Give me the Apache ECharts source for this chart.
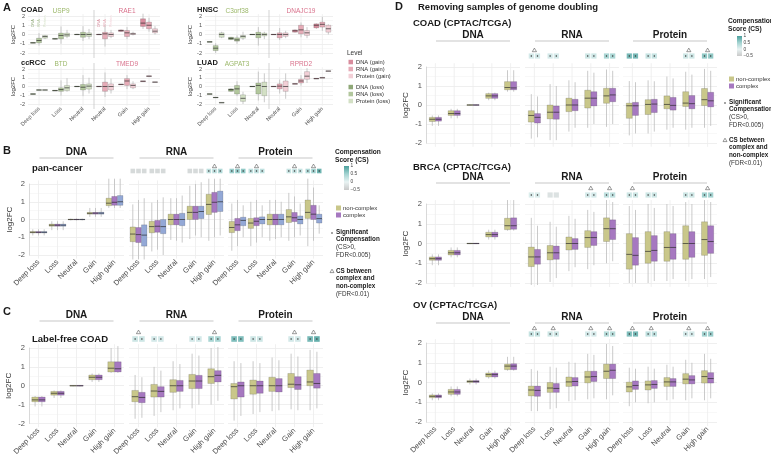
<!DOCTYPE html>
<html><head><meta charset="utf-8">
<script src="https://cdn.jsdelivr.net/npm/echarts@6/dist/echarts.min.js"></script>
<style>html,body{margin:0;padding:0;background:#fff}#c{width:771px;height:458px}</style>
</head><body><div id="c"></div>
<script>
// ---------------- categories & ticks ----------------
const cats5 = ['Deep loss','Loss','Neutral','Gain','High gain'];
const catsAL = ['Deep loss','Loss','Neutral'];
const catsAR = ['Neutral','Gain','High gain'];
const yTicks = [-2,-1,0,1,2];
const csTicks = [1,0.5,0,-0.5];

// ---------------- Panel A: [min,q1,median,q3,max] ----------------
const COAD_USP9_DNA = [[-0.95,-0.92,-0.9,-0.88,-0.85],[-0.55,-0.5,-0.47,-0.42,-0.38],[-0.05,-0.02,0,0.03,0.08]];
const COAD_USP9_RNA = [[-1.2,-0.9,-0.65,-0.4,0.15],[-1.0,-0.47,-0.1,0.15,0.87],[-0.7,-0.3,0,0.25,0.9]];
const COAD_USP9_Prot = [[-0.5,-0.4,-0.22,-0.1,-0.05],[-0.4,-0.22,-0.04,0.15,0.5],[-0.5,-0.22,0,0.18,0.6]];
const COAD_RAE1_DNA = [[-0.05,-0.02,0,0.03,0.08],[0.3,0.33,0.42,0.5,0.55],[0.6,0.87,1.23,1.7,2.25]];
const COAD_RAE1_RNA = [[-1.3,-0.47,0.07,0.25,1.0],[-0.5,-0.22,0.18,0.43,0.8],[0.3,0.62,1.0,1.34,1.8]];
const COAD_RAE1_Prot = [[-0.4,-0.22,0,0.18,0.5],[-0.1,0,0.07,0.15,0.3],[0,0.18,0.36,0.62,0.9]];
const ccRCC_BTD_DNA = [[-0.88,-0.87,-0.86,-0.85,-0.84],[-0.5,-0.49,-0.47,-0.45,-0.44],[-0.02,-0.01,0,0.01,0.02]];
const ccRCC_BTD_RNA = [[-0.41,-0.4,-0.4,-0.4,-0.39],[-1.05,-0.55,-0.35,-0.15,0.7],[-1.1,-0.4,-0.08,0.24,1.3]];
const ccRCC_BTD_Prot = [[-0.41,-0.4,-0.4,-0.4,-0.39],[-0.6,-0.47,-0.15,0.12,0.95],[-0.8,-0.3,0.04,0.3,1.0]];
const ccRCC_TMED9_DNA = [[-0.02,-0.01,0,0.01,0.02],[0.22,0.23,0.24,0.25,0.26],[0.6,0.6,0.6,0.6,0.6]];
const ccRCC_TMED9_RNA = [[-1.2,-0.55,0,0.5,1.6],[-0.3,0.12,0.63,0.9,1.3],[1.18,1.18,1.18,1.18,1.18]];
const ccRCC_TMED9_Prot = [[-0.8,-0.4,0,0.3,0.9],[-0.3,-0.15,0.12,0.3,0.6],[0.5,0.5,0.5,0.5,0.5]];
const HNSC_C3orf38_DNA = [[-0.8,-0.8,-0.8,-0.8,-0.8],[-0.6,-0.55,-0.42,-0.3,-0.25],[-0.05,-0.02,0,0.02,0.05]];
const HNSC_C3orf38_RNA = [[-2.0,-1.74,-1.48,-1.2,-0.95],[-1.0,-0.72,-0.58,-0.36,-0.1],[-1.2,-0.36,0,0.25,0.8]];
const HNSC_C3orf38_Prot = [[-0.4,-0.3,0,0.18,0.3],[-0.6,-0.4,-0.2,-0.1,0.3],[-0.5,-0.15,0,0.15,0.3]];
const HNSC_DNAJC19_DNA = [[-0.05,-0.02,0,0.02,0.05],[0.2,0.25,0.4,0.5,0.55],[0.6,0.72,1.0,1.15,1.2]];
const HNSC_DNAJC19_RNA = [[-0.6,-0.36,0,0.18,0.7],[-0.3,0.07,0.5,1.0,1.3],[0.4,0.8,1.1,1.34,1.9]];
const HNSC_DNAJC19_Prot = [[-0.4,-0.2,0,0.18,0.4],[-0.4,-0.1,0.18,0.43,0.8],[0,0.25,0.62,1.0,1.1]];
const LUAD_AGPAT3_DNA = [[-0.86,-0.86,-0.86,-0.86,-0.86],[-0.6,-0.55,-0.35,-0.27,-0.2],[-0.02,-0.01,0,0.01,0.02]];
const LUAD_AGPAT3_RNA = [[-1.26,-1.26,-1.26,-1.26,-1.26],[-1.1,-0.86,-0.27,0.12,0.6],[-1.6,-0.86,0.12,0.4,1.7]];
const LUAD_AGPAT3_Prot = [[-1.85,-1.85,-1.85,-1.85,-1.85],[-2.0,-1.7,-1.35,-0.95,-0.6],[-1.8,-1.05,0,0.5,1.5]];
const LUAD_RPRD2_DNA = [[-0.02,-0.01,0,0.01,0.02],[0.28,0.29,0.3,0.31,0.32],[0.9,0.9,0.9,0.9,0.9]];
const LUAD_RPRD2_RNA = [[-0.8,-0.27,0.04,0.3,0.8],[0.1,0.4,0.63,0.82,1.3],[1.0,1.0,1.0,1.0,1.0]];
const LUAD_RPRD2_Prot = [[-1.4,-0.55,0,0.63,1.5],[0.4,0.82,1.18,1.7,2.1],[1.76,1.76,1.76,1.76,1.76]];

// ---------------- Panel B: pan-cancer ----------------
const B_DNA_nc = [[-0.9,-0.76,-0.72,-0.68,-0.55],[-0.6,-0.38,-0.32,-0.26,-0.1],[-0.05,-0.02,0,0.02,0.05],[0.15,0.3,0.35,0.4,0.65],[0.65,0.78,0.92,1.2,2.3]];
const B_DNA_c = [[-0.9,-0.76,-0.72,-0.68,-0.55],[-0.6,-0.38,-0.32,-0.26,-0.1],[-0.05,-0.02,0,0.02,0.05],[0.15,0.3,0.36,0.4,0.65],[0.65,0.8,0.97,1.3,2.4]];
const B_DNA_all = [[-0.9,-0.76,-0.72,-0.68,-0.55],[-0.6,-0.38,-0.32,-0.26,-0.1],[-0.05,-0.02,0,0.02,0.05],[0.15,0.3,0.36,0.41,0.65],[0.65,0.8,1.0,1.35,2.4]];
const B_RNA_nc = [[-2.3,-1.25,-0.82,-0.42,0.85],[-1.8,-0.75,-0.4,-0.1,0.95],[-1.15,-0.3,0,0.3,1.2],[-1.1,0,0.4,0.75,1.9],[-1.2,0.28,0.85,1.42,2.5]];
const B_RNA_c = [[-2.3,-1.3,-0.85,-0.45,1.1],[-1.7,-0.72,-0.38,-0.05,1.1],[-1.2,-0.3,0,0.3,1.2],[-0.9,0,0.4,0.75,2.0],[-1.0,0.4,0.97,1.53,2.5]];
const B_RNA_all = [[-2.3,-1.5,-0.88,-0.3,1.2],[-2.0,-0.8,-0.4,0,1.25],[-1.3,-0.35,0,0.35,1.35],[-1.0,0.05,0.45,0.75,2.1],[-0.9,0.45,1.0,1.6,2.5]];
const B_Prot_nc = [[-1.76,-0.74,-0.45,-0.11,0.9],[-1.5,-0.5,-0.2,0.06,1.0],[-1.2,-0.3,0,0.3,1.1],[-1.2,-0.17,0.15,0.56,1.5],[-1.5,0.06,0.4,1.1,2.3]];
const B_Prot_c = [[-1.5,-0.63,-0.3,0.06,1.1],[-1.3,-0.35,-0.1,0.1,1.1],[-1.1,-0.3,0,0.3,1.1],[-1.0,-0.12,0.1,0.4,1.3],[-1.2,0,0.3,0.8,1.8]];
const B_Prot_all = [[-1.0,-0.35,-0.05,0.13,0.8],[-1.0,-0.25,0,0.15,0.8],[-1.0,-0.3,0,0.3,1.0],[-0.9,-0.25,0,0.2,0.9],[-0.8,-0.2,0.05,0.3,0.8]];
const B_RNA_cs = [[-0.3,-0.3,-0.3],[-0.3,-0.3,-0.3],null,[-0.3,-0.3,-0.3],[0.3,0.3,0.4]];
const B_RNA_sig = [[0,0,0],[0,0,0],null,[0,0,0],[1,1,1]];
const B_RNA_tri = [0,0,0,0,1];
const B_Prot_cs = [[0.55,0.55,0.6],[0.3,0.3,0.3],null,[0.25,0.25,0.25],[0.4,0.5,0.8]];
const B_Prot_sig = [[1,1,1],[1,1,1],null,[1,1,1],[1,1,1]];
const B_Prot_tri = [1,1,0,1,1];

// ---------------- Panel C: Label-free COAD ----------------
const C_DNA_nc = [[-1.1,-0.85,-0.75,-0.6,-0.55],[-0.65,-0.5,-0.4,-0.3,-0.25],[-0.03,-0.01,0,0.01,0.03],[0.2,0.32,0.45,0.57,0.65],[0.68,0.73,0.93,1.27,2.0]];
const C_DNA_c = [[-1.1,-0.85,-0.75,-0.6,-0.55],[-0.65,-0.5,-0.4,-0.3,-0.25],[-0.03,-0.01,0,0.01,0.03],[0.2,0.32,0.45,0.57,0.65],[0.68,0.73,0.9,1.27,2.1]];
const C_RNA_nc = [[-1.75,-0.85,-0.58,-0.25,0.57],[-1.6,-0.6,-0.28,0.07,1.0],[-1.3,-0.35,0,0.32,1.3],[-1.2,-0.15,0.25,0.6,1.7],[-1.0,0.12,0.48,0.9,2.0]];
const C_RNA_c = [[-1.7,-0.9,-0.62,-0.35,0.45],[-1.4,-0.6,-0.3,-0.05,0.8],[-1.2,-0.3,0,0.28,1.15],[-1.0,-0.15,0.25,0.55,1.6],[-0.8,0.2,0.55,0.8,2.05]];
const C_Prot_nc = [[-1.85,-0.7,-0.05,0.12,1.3],[-1.5,-0.45,0,0.3,1.3],[-1.35,-0.3,0,0.45,1.5],[-1.25,-0.1,0.08,0.65,1.7],[-1.3,0,0.2,0.83,1.9]];
const C_Prot_c = [[-1.6,-0.6,0,0.2,1.2],[-1.4,-0.4,0,0.25,1.2],[-1.3,-0.33,0,0.38,1.35],[-1.3,-0.2,0.05,0.48,1.55],[-1.2,-0.13,0.12,0.65,1.8]];
const C_RNA_cs = [[0.2,0.2],[0.15,0.15],null,[0.15,0.15],[0.45,0.45]];
const C_RNA_sig = [[1,1],[1,1],null,[1,1],[1,1]];
const C_RNA_tri = [1,0,0,0,1];
const C_Prot_cs = [[0.7,0.7],[0.2,0.2],null,[0.15,0.15],[0.75,0.85]];
const C_Prot_sig = [[1,1],[1,1],null,[1,1],[1,1]];
const C_Prot_tri = [0,0,0,1,1];

// ---------------- Panel D: COAD / BRCA / OV (CPTAC/TCGA) ----------------
const DC_DNA_nc = [[-1.1,-0.87,-0.75,-0.65,-0.55],[-0.7,-0.55,-0.45,-0.3,-0.2],[-0.03,-0.01,0,0.01,0.03],[0.25,0.35,0.48,0.6,0.65],[0.7,0.8,0.92,1.23,1.83]];
const DC_DNA_c = [[-1.1,-0.85,-0.75,-0.65,-0.55],[-0.7,-0.55,-0.45,-0.3,-0.2],[-0.03,-0.01,0,0.01,0.03],[0.25,0.35,0.48,0.6,0.65],[0.7,0.8,0.9,1.23,1.83]];
const DC_RNA_nc = [[-1.77,-0.9,-0.55,-0.3,0.57],[-1.85,-0.73,-0.38,0,1.1],[-1.4,-0.35,0,0.36,1.3],[-1.2,-0.16,0.36,0.78,1.8],[-1.15,0.09,0.48,0.88,1.87]];
const DC_RNA_c = [[-1.7,-0.95,-0.65,-0.45,0.45],[-1.85,-0.75,-0.38,-0.05,1.0],[-1.2,-0.3,0,0.3,1.2],[-1.0,-0.05,0.36,0.7,1.7],[-1.0,0.17,0.53,0.88,1.8]];
const DC_Prot_nc = [[-1.6,-0.7,-0.04,0.1,1.26],[-1.5,-0.5,0.03,0.28,1.3],[-1.3,-0.2,0.03,0.48,1.5],[-1.3,-0.08,0.1,0.7,1.75],[-1.2,-0.03,0.28,0.87,1.9]];
const DC_Prot_c = [[-1.5,-0.55,-0.04,0.14,1.2],[-1.4,-0.4,0.05,0.3,1.25],[-1.2,-0.27,-0.02,0.4,1.4],[-1.2,-0.2,0.07,0.5,1.6],[-1.1,-0.1,0.22,0.67,1.8]];
const DC_RNA_cs = [[0.15,0.15],[0.15,0.15],null,[0.2,0.2],[0.45,0.45]];
const DC_RNA_sig = [[1,1],[1,1],null,[1,1],[1,1]];
const DC_RNA_tri = [1,0,0,0,0];
const DC_Prot_cs = [[0.75,0.75],[0.25,0.25],null,[0.2,0.2],[0.6,0.6]];
const DC_Prot_sig = [[1,1],[1,1],null,[1,1],[1,1]];
const DC_Prot_tri = [0,0,0,1,1];

const DB_DNA_nc = [[-1.1,-0.85,-0.77,-0.68,-0.55],[-0.7,-0.58,-0.47,-0.35,-0.2],[-0.03,-0.01,0,0.01,0.03],[0.2,0.33,0.45,0.57,0.7],[0.65,0.7,0.9,1.28,2.2]];
const DB_DNA_c = [[-1.1,-0.85,-0.77,-0.68,-0.55],[-0.7,-0.58,-0.47,-0.35,-0.2],[-0.03,-0.01,0,0.01,0.03],[0.2,0.33,0.45,0.57,0.7],[0.65,0.72,0.9,1.3,2.2]];
const DB_RNA_nc = [[-2.1,-1.17,-0.68,-0.18,1.3],[-1.95,-0.83,-0.47,-0.1,1.1],[-1.4,-0.33,0,0.33,1.4],[-1.3,-0.2,0.3,0.65,1.7],[-1.0,0.1,0.75,1.3,2.2]];
const DB_RNA_c = [[-2.1,-1.05,-0.68,-0.3,0.9],[-1.75,-0.8,-0.47,-0.13,0.85],[-1.2,-0.3,0,0.25,1.25],[-1.1,-0.1,0.3,0.6,1.6],[-0.9,0.2,0.75,1.2,2.1]];
const DB_Prot_nc = [[-2.0,-1.3,-0.55,0.5,1.9],[-2.0,-1.0,-0.4,0.6,2.0],[-1.9,-0.9,-0.2,0.6,2.0],[-1.9,-0.8,0,0.9,2.1],[-1.8,-0.6,0.2,1.1,2.2]];
const DB_Prot_c = [[-2.0,-1.1,-0.6,0.3,1.7],[-1.9,-0.9,-0.35,0.4,1.8],[-1.8,-0.8,-0.2,0.5,1.9],[-1.8,-0.7,0,0.6,2.0],[-1.7,-0.5,0.1,0.9,2.1]];
const DB_RNA_cs = [[0.1,0.1],[-0.2,-0.2],null,[0.15,0.15],[0.3,0.3]];
const DB_RNA_sig = [[1,1],[0,0],null,[1,1],[1,1]];
const DB_RNA_tri = [0,0,0,1,1];
const DB_Prot_cs = [[0.2,0.2],[0.2,0.2],null,[0.2,0.2],[0.5,0.5]];
const DB_Prot_sig = [[1,1],[1,1],null,[1,1],[1,1]];
const DB_Prot_tri = [1,0,0,0,1];

const DO_DNA_nc = [[-0.9,-0.77,-0.7,-0.63,-0.55],[-0.7,-0.6,-0.48,-0.35,-0.2],[-0.1,0,0.05,0.1,0.2],[0.2,0.28,0.4,0.48,0.6],[0.6,0.65,0.83,0.93,1.3]];
const DO_DNA_c = [[-0.9,-0.77,-0.7,-0.63,-0.55],[-0.7,-0.6,-0.48,-0.35,-0.2],[-0.1,0,0.05,0.1,0.2],[0.2,0.28,0.4,0.48,0.6],[0.6,0.65,0.83,0.95,1.3]];
const DO_RNA_nc = [[-1.45,-0.68,-0.38,-0.18,0.68],[-1.35,-0.5,-0.28,0.0,0.8],[-0.95,-0.2,0.03,0.28,1.05],[-0.85,-0.02,0.28,0.57,1.45],[-0.85,0.2,0.57,0.93,1.95]];
const DO_RNA_c = [[-1.45,-0.7,-0.4,-0.18,0.6],[-1.3,-0.5,-0.3,-0.05,0.75],[-0.9,-0.18,0.05,0.25,1.0],[-0.8,0.05,0.3,0.57,1.4],[-0.65,0.2,0.62,0.93,1.85]];
const DO_Prot_nc = [[-1.2,-0.48,-0.22,0.02,0.75],[-1.05,-0.38,-0.12,0.08,0.8],[-0.9,-0.2,0.03,0.25,0.9],[-0.9,-0.07,0.17,0.45,1.15],[-0.9,-0.03,0.3,0.6,1.45]];
const DO_Prot_c = [[-1.0,-0.35,-0.15,0.08,0.7],[-1.0,-0.3,-0.1,0.1,0.7],[-0.85,-0.2,0.03,0.2,0.8],[-0.8,-0.07,0.13,0.35,1.0],[-0.8,-0.03,0.2,0.5,1.2]];
const DO_RNA_cs = [[0.25,0.25],[0.2,0.2],null,[0.15,0.15],[0.35,0.35]];
const DO_RNA_sig = [[1,1],[1,1],null,[1,1],[1,1]];
const DO_RNA_tri = [1,1,0,1,1];
const DO_Prot_cs = [[0.7,0.75],[0.3,0.3],null,[0.15,0.15],[0.5,0.55]];
const DO_Prot_sig = [[1,1],[1,1],null,[1,1],[1,1]];
const DO_Prot_tri = [1,1,0,1,1];

// ---------------- styles ----------------
const FONT = "'Liberation Sans', Arial, Helvetica, sans-serif";
const COL_NC = '#c9c78a', COL_C = '#a678c0', COL_ALL = '#93a8d6';
const COL_LOSS = ['#8fa878','#b2c79d','#d3e0c5'];
const COL_GAIN = ['#d88c9d','#e6abb7','#f2cfd6'];
const GENE_GREEN = '#9cb86a', GENE_PINK = '#d9728c';
const WHISK = '#bdbdbd', BORDER = 'rgba(0,0,0,0.28)', MED = 'rgba(40,40,40,0.75)';
const CS_STOPS = [[-0.5,[201,201,201]],[0,[233,243,243]],[0.5,[163,211,209]],[1,[74,159,156]]];
function csColor(v){
  for(let i=0;i<CS_STOPS.length-1;i++){
    const [a,ca]=CS_STOPS[i],[b,cb]=CS_STOPS[i+1];
    if(v<=b||i===CS_STOPS.length-2){
      const t=Math.max(0,Math.min(1,(v-a)/(b-a)));
      const c=ca.map((x,k)=>Math.round(x+(cb[k]-x)*t));
      return `rgb(${c[0]},${c[1]},${c[2]})`;
    }
  }
}

const grids=[], xAxes=[], yAxes=[], series=[], graphics=[];
function addGrid(o){
  const i=grids.length;
  grids.push({left:o.left, top:o.top, width:o.width, height:o.height});
  xAxes.push({type:'category', gridIndex:i, data:o.cats, boundaryGap:true,
    axisLine:{show:false}, axisTick:{show:false}, splitLine:{show:false},
    axisLabel:{show:!!o.xLabels, rotate:45, interval:0, fontSize:o.xFont||7.5, color:'#4d4d4d', margin:o.xMargin||6, fontFamily:FONT}});
  yAxes.push({type:'value', gridIndex:i, min:yTicks[0], max:yTicks[yTicks.length-1], interval:1,
    axisLine:{show:!!o.yLine, lineStyle:{color:'#cfcfcf', width:0.8}}, axisTick:{show:false},
    axisLabel:{show:!!o.yLabels, fontSize:o.yFont||7.5, color:'#4d4d4d', margin:o.yMargin||4, fontFamily:FONT},
    splitLine:{show:true, lineStyle:{color:'#ebebeb', width:0.8}},
    minorTick:{show:false, splitNumber:2}, minorSplitLine:{show:true, lineStyle:{color:'#f4f4f4', width:0.6}},
    name:o.yName||'', nameLocation:'middle', nameGap:o.nameGap||14,
    nameTextStyle:{fontSize:o.nameSize||8, color:'#333', fontFamily:FONT}});
  series.push({type:'custom', xAxisIndex:i, yAxisIndex:i, silent:true, z:1,
    data:o.cats.map((c,k)=>[k]),
    renderItem:(p,api)=>{const a=api.coord([api.value(0),2.2]), b=api.coord([api.value(0),-2.2]);
      return {type:'line', shape:{x1:a[0],y1:a[1],x2:b[0],y2:b[1]}, style:{stroke:'#ececec', lineWidth:0.8}};}});
  return i;
}
function addBoxes(gi, data, color, off, w){
  series.push({type:'custom', xAxisIndex:gi, yAxisIndex:gi, silent:true, z:3,
    data:data.map((d,k)=>[k].concat(d)),
    renderItem:(p,api)=>{
      const k=api.value(0);
      const cx=api.coord([k,0])[0]+off;
      const Y=v=>api.coord([k,Math.max(-2.25,Math.min(2.3,v))])[1];
      const y0=Y(api.value(1)), y1=Y(api.value(2)), ym=Y(api.value(3)), y3=Y(api.value(4)), y4=Y(api.value(5));
      const h=Math.max(y1-y3,0.8);
      return {type:'group', children:[
        {type:'line', shape:{x1:cx,y1:y4,x2:cx,y2:y0}, style:{stroke:WHISK, lineWidth:0.8}},
        {type:'rect', shape:{x:cx-w/2,y:Math.min(y3,ym-0.4),width:w,height:h}, style:{fill:color, stroke:BORDER, lineWidth:0.5}},
        {type:'line', shape:{x1:cx-w/2,y1:ym,x2:cx+w/2,y2:ym}, style:{stroke:MED, lineWidth:0.9}}
      ]};
    }});
}
function addSymbols(gi, cs, sig, tri, offs, size, sqGap, triGap){
  const d=[];
  cs.forEach((arr,k)=>{ if(arr) arr.forEach((v,j)=>d.push([k,j,v,sig[k][j]])); });
  series.push({type:'custom', xAxisIndex:gi, yAxisIndex:gi, silent:true, z:4, data:d,
    renderItem:(p,api)=>{
      const k=api.value(0), pt=api.coord([k,2]);
      const cx=pt[0]+offs[api.value(1)], cy=pt[1]-sqGap;
      const ch=[{type:'rect', shape:{x:cx-size/2,y:cy-size/2,width:size,height:size}, style:{fill:csColor(api.value(2))}}];
      if(api.value(3)) ch.push({type:'circle', shape:{cx:cx,cy:cy,r:0.75}, style:{fill:'#333'}});
      return {type:'group', children:ch};
    }});
  const t=[]; tri.forEach((v,k)=>{ if(v) t.push([k]); });
  series.push({type:'custom', xAxisIndex:gi, yAxisIndex:gi, silent:true, z:4, data:t,
    renderItem:(p,api)=>{
      const pt=api.coord([api.value(0),2]); const cx=pt[0], cy=pt[1]-triGap;
      return {type:'polygon', shape:{points:[[cx,cy-1.9],[cx-2.1,cy+1.7],[cx+2.1,cy+1.7]]}, style:{fill:'none', stroke:'#555', lineWidth:0.6}};
    }});
}
function T(text,x,y,o){o=o||{};
  graphics.push({type:'text', x:x, y:y, rotation:o.rot||0, silent:true, z:10,
    style:{text:text, font:(o.bold?'bold ':'')+(o.size||8)+'px '+FONT, fill:o.color||'#1a1a1a',
      textAlign:o.align||'left', textVerticalAlign:o.va||'middle', align:o.align||'left', verticalAlign:o.va||'middle'}});}
function Ln(x1,y1,x2,y2,c,w){graphics.push({type:'line', silent:true, z:10, shape:{x1,y1,x2,y2}, style:{stroke:c||'#c8c8c8', lineWidth:w||1.2}});}
function Rc(x,y,w,h,fill){graphics.push({type:'rect', silent:true, z:10, shape:{x,y,width:w,height:h}, style:{fill}});}

// ================= Panel A =================
const A_ROWS=[{top:16,h:37},{top:69,h:35}];
const A_COLS=[{l:28,w:66,titleX:21,nameGap:11},{l:205,w:64,titleX:197,nameGap:9}];
const aPanels=[
  {title:'COAD',r:0,c:0,tiny:true,genes:[['USP9',[COAD_USP9_DNA,COAD_USP9_RNA,COAD_USP9_Prot]],['RAE1',[COAD_RAE1_DNA,COAD_RAE1_RNA,COAD_RAE1_Prot]]]},
  {title:'HNSC',r:0,c:1,genes:[['C3orf38',[HNSC_C3orf38_DNA,HNSC_C3orf38_RNA,HNSC_C3orf38_Prot]],['DNAJC19',[HNSC_DNAJC19_DNA,HNSC_DNAJC19_RNA,HNSC_DNAJC19_Prot]]]},
  {title:'ccRCC',r:1,c:0,genes:[['BTD',[ccRCC_BTD_DNA,ccRCC_BTD_RNA,ccRCC_BTD_Prot]],['TMED9',[ccRCC_TMED9_DNA,ccRCC_TMED9_RNA,ccRCC_TMED9_Prot]]]},
  {title:'LUAD',r:1,c:1,genes:[['AGPAT3',[LUAD_AGPAT3_DNA,LUAD_AGPAT3_RNA,LUAD_AGPAT3_Prot]],['RPRD2',[LUAD_RPRD2_DNA,LUAD_RPRD2_RNA,LUAD_RPRD2_Prot]]]}
];
const A_OFF=[-6,0,6], A_W=5;
aPanels.forEach(p=>{
  const R=A_ROWS[p.r], C=A_COLS[p.c];
  [0,1].forEach(side=>{
    const left=C.l+side*C.w;
    const gi=addGrid({left:left, top:R.top, width:C.w, height:R.h, cats:side?catsAR:catsAL,
      yLabels:side===0, yFont:5.5, yMargin:3, yName:side===0?'log2FC':'', nameGap:C.nameGap, nameSize:6,
      xLabels:p.r===1, xFont:5.5, xMargin:4});
    const g=p.genes[side], cols=side?COL_GAIN:COL_LOSS;
    g[1].forEach((arr,li)=>addBoxes(gi,arr,cols[li],A_OFF[li],A_W));
    T(g[0], left+C.w/2, R.top-5, {size:6.5, color:side?GENE_PINK:GENE_GREEN, align:'center'});
    if(p.tiny){
      const catW=C.w/3, cx=left+catW/2;
      ['DNA','RNA','Protein'].forEach((s,li)=>T(s, cx+A_OFF[li], R.top+11, {size:3.6, rot:Math.PI/2, color:cols[li], align:'left'}));
    }
  });
  T(p.title, C.titleX, R.top-6, {bold:true, size:7.5});
  Ln(C.l+C.w, R.top-6, C.l+C.w, R.top+R.h+5, '#c8c8c8', 0.8);
});
T('A',3,8,{bold:true,size:11});
// Level legend
T('Level',347,53,{size:6.5,color:'#333'});
[['DNA (gain)',COL_GAIN[0],62],['RNA (gain)',COL_GAIN[1],69],['Protein (gain)',COL_GAIN[2],76],
 ['DNA (loss)',COL_LOSS[0],87],['RNA (loss)',COL_LOSS[1],94],['Protein (loss)',COL_LOSS[2],101]].forEach(e=>{
  Rc(348.5,e[2]-2.2,4.5,4.5,e[1]); T(e[0],356,e[2],{size:5.8,color:'#333'});
});

// ================= Panels B, C, D (faceted DNA/RNA/Protein) =================
const FACET_BC=[29,129,228], FACET_BC_W=95;
const FACET_D=[426,525,623], FACET_D_W=94;
function facetPanel(cfg){
  const gis=[];
  cfg.levels.forEach((lv,f)=>{
    const gi=addGrid({left:cfg.xs[f], top:cfg.top, width:cfg.w, height:cfg.h, cats:cats5,
      yLabels:f===0, yLine:f===0, yName:f===0?'log2FC':'', nameGap:cfg.nameGap, nameSize:8,
      xLabels:cfg.xLabels, xFont:7.5, xMargin:6});
    lv.boxes.forEach((arr,s)=>addBoxes(gi,arr,cfg.colors[s],cfg.offs[s],cfg.bw));
    if(lv.cs) addSymbols(gi,lv.cs,lv.sig,lv.tri,cfg.offs,cfg.sq,cfg.sqGap,cfg.triGap);
    const cx=cfg.xs[f]+cfg.w/2;
    T(lv.name, cx, cfg.headY, {bold:true, size:10, align:'center'});
    Ln(cx-37, cfg.headY+6, cx+37, cfg.headY+6, '#c8c8c8', 1.2);
    gis.push(gi);
  });
  return gis;
}
// B
facetPanel({xs:FACET_BC, w:FACET_BC_W, top:184, h:71, headY:152, nameGap:15, xLabels:true,
  colors:[COL_NC,COL_C,COL_ALL], offs:[-5.7,0,5.7], bw:5.5, sq:4.6, sqGap:13, triGap:18,
  levels:[{name:'DNA',boxes:[B_DNA_nc,B_DNA_c,B_DNA_all]},
          {name:'RNA',boxes:[B_RNA_nc,B_RNA_c,B_RNA_all],cs:B_RNA_cs,sig:B_RNA_sig,tri:B_RNA_tri},
          {name:'Protein',boxes:[B_Prot_nc,B_Prot_c,B_Prot_all],cs:B_Prot_cs,sig:B_Prot_sig,tri:B_Prot_tri}]});
T('B',3,151,{bold:true,size:11});
T('pan-cancer',32,168,{bold:true,size:9.5});
// C
facetPanel({xs:FACET_BC, w:FACET_BC_W, top:348, h:79, headY:315, nameGap:16, xLabels:true,
  colors:[COL_NC,COL_C], offs:[-3.4,3.4], bw:6.6, sq:5.6, sqGap:9, triGap:16,
  levels:[{name:'DNA',boxes:[C_DNA_nc,C_DNA_c]},
          {name:'RNA',boxes:[C_RNA_nc,C_RNA_c],cs:C_RNA_cs,sig:C_RNA_sig,tri:C_RNA_tri},
          {name:'Protein',boxes:[C_Prot_nc,C_Prot_c],cs:C_Prot_cs,sig:C_Prot_sig,tri:C_Prot_tri}]});
T('C',3,312,{bold:true,size:11});
T('Label-free COAD',32,339,{bold:true,size:9.5});
// D
const dRows=[
  {title:'COAD (CPTAC/TCGA)', titleY:23, top:67, h:76, headY:35, sqGap:11, triGap:17, xLabels:false,
   lv:[[DC_DNA_nc,DC_DNA_c],[DC_RNA_nc,DC_RNA_c,DC_RNA_cs,DC_RNA_sig,DC_RNA_tri],[DC_Prot_nc,DC_Prot_c,DC_Prot_cs,DC_Prot_sig,DC_Prot_tri]]},
  {title:'BRCA (CPTAC/TCGA)', titleY:167, top:204, h:79, headY:177, sqGap:9, triGap:16, xLabels:false,
   lv:[[DB_DNA_nc,DB_DNA_c],[DB_RNA_nc,DB_RNA_c,DB_RNA_cs,DB_RNA_sig,DB_RNA_tri],[DB_Prot_nc,DB_Prot_c,DB_Prot_cs,DB_Prot_sig,DB_Prot_tri]]},
  {title:'OV (CPTAC/TCGA)', titleY:305, top:343, h:79, headY:317, sqGap:9, triGap:15, xLabels:true,
   lv:[[DO_DNA_nc,DO_DNA_c],[DO_RNA_nc,DO_RNA_c,DO_RNA_cs,DO_RNA_sig,DO_RNA_tri],[DO_Prot_nc,DO_Prot_c,DO_Prot_cs,DO_Prot_sig,DO_Prot_tri]]}
];
dRows.forEach(r=>{
  facetPanel({xs:FACET_D, w:FACET_D_W, top:r.top, h:r.h, headY:r.headY, nameGap:16, xLabels:r.xLabels,
    colors:[COL_NC,COL_C], offs:[-3.1,3.1], bw:6, sq:5.2, sqGap:r.sqGap, triGap:r.triGap,
    levels:['DNA','RNA','Protein'].map((n,i)=>({name:n, boxes:[r.lv[i][0],r.lv[i][1]], cs:r.lv[i][2], sig:r.lv[i][3], tri:r.lv[i][4]}))});
  T(r.title,413,r.titleY,{bold:true,size:9.5});
});
T('D',395,7,{bold:true,size:11});
T('Removing samples of genome doubling',418,7,{bold:true,size:9.5});

// ---------------- legends for B and D ----------------
function csLegend(x,y,barTop,barH,sqY,sigY,triY){
  T('Compensation',x,y,{bold:true,size:6.6}); T('Score (CS)',x,y+8.5,{bold:true,size:6.6});
  graphics.push({type:'rect', silent:true, z:10, shape:{x:x+9,y:barTop,width:5,height:barH},
    style:{fill:{type:'linear',x:0,y:0,x2:0,y2:1,colorStops:[{offset:0,color:csColor(1)},{offset:1/3,color:csColor(0.5)},{offset:2/3,color:csColor(0)},{offset:1,color:csColor(-0.5)}]}}});
  csTicks.forEach(v=>T(String(v).replace('-','\u2212'), x+15.5, barTop+barH*(1-v)/1.5, {size:4.8,color:'#444'}));
  Rc(x+1,sqY-2.5,5,5,COL_NC); T('non-complex',x+8,sqY,{size:6,color:'#333'});
  Rc(x+1,sqY+4.5,5,5,COL_C); T('complex',x+8,sqY+7,{size:6,color:'#333'});
  graphics.push({type:'circle', silent:true, z:10, shape:{cx:x-3,cy:sigY+1,r:0.8}, style:{fill:'#333'}});
  T('Significant',x+1,sigY,{bold:true,size:6.3}); T('Compensation',x+1,sigY+7.6,{bold:true,size:6.3});
  T('(CS>0,',x+1,sigY+15.2,{size:6.3,color:'#333'}); T('FDR<0.005)',x+1,sigY+22.8,{size:6.3,color:'#333'});
  graphics.push({type:'polygon', silent:true, z:10, shape:{points:[[x-3,triY-1.8],[x-5,triY+1.6],[x-1,triY+1.6]]}, style:{fill:'none',stroke:'#555',lineWidth:0.6}});
  T('CS between',x+1,triY,{bold:true,size:6.3}); T('complex and',x+1,triY+7.6,{bold:true,size:6.3});
  T('non-complex',x+1,triY+15.2,{bold:true,size:6.3}); T('(FDR<0.01)',x+1,triY+22.8,{size:6.3,color:'#333'});
}
csLegend(335,152,166,24,208,232,271);
csLegend(728,21,36,20,79,102,140);

const chart=echarts.init(document.getElementById('c'),null,{renderer:'canvas'});
chart.setOption({animation:false, backgroundColor:'#fff', textStyle:{fontFamily:FONT},
  grid:grids, xAxis:xAxes, yAxis:yAxes, series:series, graphic:{elements:graphics}});
</script></body></html>
